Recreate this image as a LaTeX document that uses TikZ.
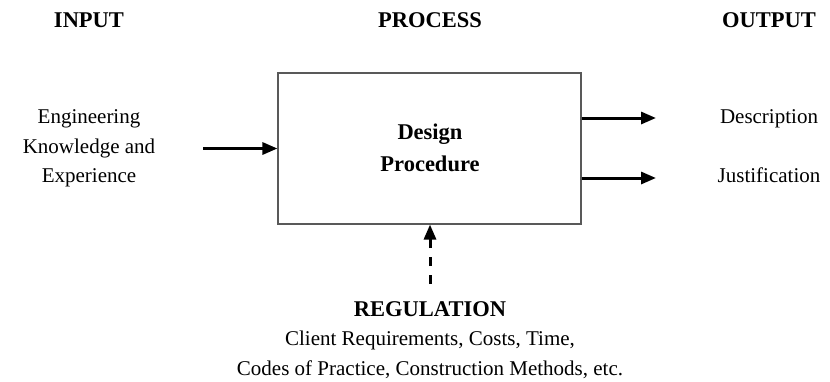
\documentclass[tikz,border=0pt]{standalone}
\usepackage{fontspec}
\setmainfont{Liberation Serif}
\usetikzlibrary{arrows.meta}
\begin{document}
\begin{tikzpicture}[x=1pt,y=-1pt,
  lbl/.style={font=\fontsize{21}{29}\selectfont, anchor=base, inner sep=0pt, align=center},
  hdr/.style={font=\fontsize{22.5}{29}\selectfont\bfseries, anchor=base, inner sep=0pt},
  flow/.style={line width=3pt, -{Triangle[length=15pt,width=12pt]}},
  procbox/.style={draw=black!65, line width=1.1pt}]
\useasboundingbox (0,0) rectangle (830,381);
\node[hdr] (hin) at (89,27.5) {INPUT};
\node[hdr] (hpr) at (430,27.5) {PROCESS};
\node[hdr] (hout) at (769,27.5) {OUTPUT};
\node[procbox, minimum width=303pt, minimum height=151pt, inner sep=0pt] (box) at (429.5,148.5) {};
\node[hdr] (d1) at (430,139) {Design};
\node[hdr] (d2) at (430,171) {Procedure};
\node[lbl] (e1) at (89,123) {Engineering};
\node[lbl] (e2) at (89,153) {Knowledge and};
\node[lbl] (e3) at (89,182) {Experience};
\node[lbl] (o1) at (769,123) {Description};
\node[lbl] (o2) at (769,182) {Justification};
\node[hdr] (reg) at (430,316) {REGULATION};
\node[lbl] (r1) at (430,345.5) {Client Requirements, Costs, Time,};
\node[lbl] (r2) at (430,375) {Codes of Practice, Construction Methods, etc.};
\coordinate (inS) at (203,148.5);
\coordinate (o1E) at (656,118);
\coordinate (o2E) at (656,178);
\coordinate (regS) at (430,284);
\draw[flow] (inS) -- (box.west);
\draw[flow] (box.east |- o1E) -- (o1E);
\draw[flow] (box.east |- o2E) -- (o2E);
\draw[flow, dash pattern=on 9pt off 9pt] (regS) -- (box.south -| regS);
\end{tikzpicture}
\end{document}
